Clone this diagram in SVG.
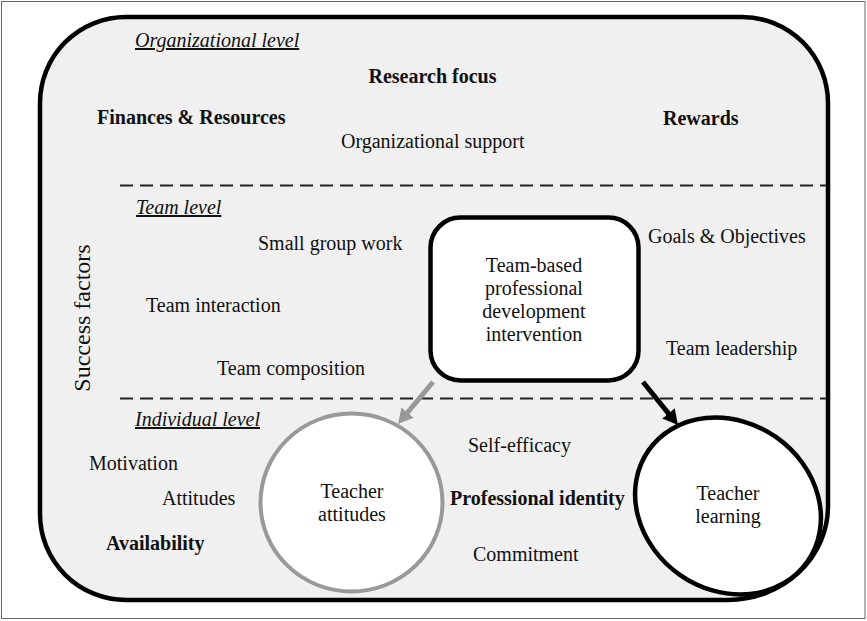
<svg xmlns="http://www.w3.org/2000/svg" width="867" height="621" viewBox="0 0 867 621">
  <style>
    text { font-family: "Liberation Serif", "Times New Roman", serif; font-size: 20px; fill: #111; }
    .b { font-weight: bold; }
    .lvl { font-style: italic; text-decoration: underline; }
    .c { text-anchor: middle; }
    .divider { stroke: #222; stroke-width: 2; stroke-dasharray: 13 7; fill: none; }
    .link { fill: none; stroke-width: 5; }
  </style>
  <defs>
    <marker id="headGray" markerUnits="userSpaceOnUse" markerWidth="16" markerHeight="16" refX="7" refY="8" orient="auto">
      <path d="M0,0 L15,8 L0,16 z" fill="#999"/>
    </marker>
    <marker id="headBlack" markerUnits="userSpaceOnUse" markerWidth="16" markerHeight="16" refX="7" refY="8" orient="auto">
      <path d="M0,0 L15,8 L0,16 z" fill="#000"/>
    </marker>
  </defs>

  <!-- page frame -->
  <rect x="1.5" y="1.5" width="863.5" height="617" fill="#fff" stroke="#666" stroke-width="1"/>

  <!-- success-factor panel -->
  <g id="panel">
    <path d="M126,17 L742,17 A86,86 0 0 1 828,103 L828,506 A100,94 0 0 1 728,600 L126,600 A86,86 0 0 1 40,514 L40,103 A86,86 0 0 1 126,17 Z"
          fill="#f0f0f0" stroke="#000" stroke-width="4.5"/>
    <line class="divider" x1="120" y1="185.5" x2="826" y2="185.5"/>
    <line class="divider" x1="120" y1="398.5" x2="826" y2="398.5"/>
    <text x="90" y="318" class="c" transform="rotate(-90 90 318)" style="font-size:24px">Success factors</text>
  </g>

  <!-- organizational level -->
  <g id="organizational-level">
    <text x="135" y="47" class="lvl">Organizational level</text>
    <text x="432.5" y="83" class="b c">Research focus</text>
    <text x="97" y="124" class="b">Finances &amp; Resources</text>
    <text x="663" y="125" class="b">Rewards</text>
    <text x="341" y="148">Organizational support</text>
  </g>

  <!-- team level -->
  <g id="team-level">
    <text x="136" y="214" class="lvl">Team level</text>
    <text x="258" y="250">Small group work</text>
    <text x="648" y="243">Goals &amp; Objectives</text>
    <text x="146" y="312">Team interaction</text>
    <text x="217" y="375">Team composition</text>
    <text x="666" y="355">Team leadership</text>
  </g>

  <!-- individual level -->
  <g id="individual-level">
    <text x="135" y="426" class="lvl">Individual level</text>
    <text x="89" y="470">Motivation</text>
    <text x="162" y="505">Attitudes</text>
    <text x="106" y="550" class="b">Availability</text>
    <text x="468" y="452">Self-efficacy</text>
    <text x="450" y="505" class="b">Professional identity</text>
    <text x="473" y="561">Commitment</text>
  </g>

  <!-- intervention -->
  <g id="intervention">
    <rect x="430.5" y="217.5" width="208" height="163" rx="30" ry="30" fill="#fff" stroke="#000" stroke-width="4.5"/>
    <text x="534" y="272" class="c">Team-based</text>
    <text x="534" y="295" class="c">professional</text>
    <text x="534" y="318" class="c">development</text>
    <text x="534" y="341" class="c">intervention</text>
  </g>

  <!-- outcomes -->
  <g id="teacher-attitudes">
    <ellipse cx="351.5" cy="502.5" rx="91" ry="89" fill="#fff" stroke="#999" stroke-width="4"/>
    <text x="352" y="498" class="c">Teacher</text>
    <text x="352" y="521" class="c">attitudes</text>
  </g>
  <g id="teacher-learning">
    <ellipse cx="728" cy="506" rx="97" ry="84" transform="rotate(35 728 506)" fill="#fff" stroke="#000" stroke-width="4.5"/>
    <text x="728" y="500" class="c">Teacher</text>
    <text x="728" y="523" class="c">learning</text>
  </g>

  <!-- connectors -->
  <g id="connectors">
    <line class="link" x1="433" y1="382" x2="403.1" y2="417.9" stroke="#999" marker-end="url(#headGray)"/>
    <line class="link" x1="643" y1="382" x2="672.9" y2="418.8" stroke="#000" marker-end="url(#headBlack)"/>
  </g>
</svg>
